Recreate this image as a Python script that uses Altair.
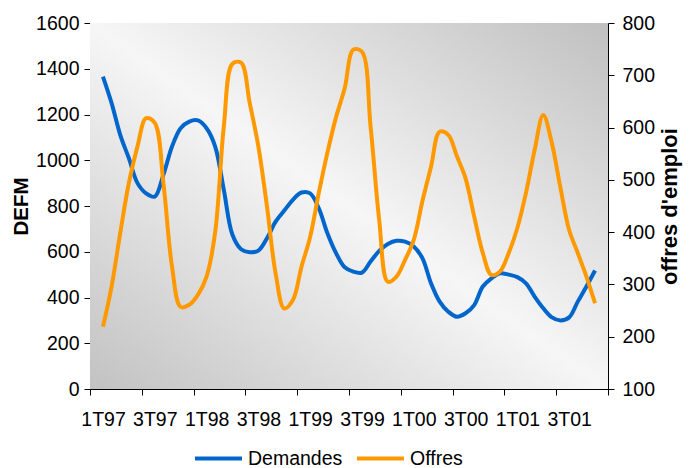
import altair as alt
import pandas as pd

# Quarter labels shown on the x axis (one every 6 months)
quarters = ['1T97', '3T97', '1T98', '3T98', '1T99', '3T99', '1T00', '3T00', '1T01', '3T01']

# Monthly series, Jan 1997 onward
demandes = [1366, 1250, 1111, 1009, 900, 855, 841, 936, 1060, 1140,
            1169, 1174, 1140, 1060, 870, 674, 611, 598, 605, 659,
            732, 780, 827, 859, 855, 790, 681, 594, 532, 513,
            509, 557, 604, 634, 648, 644, 623, 572, 462, 382,
            338, 316, 331, 367, 448, 484, 506, 500, 489, 462,
            404, 353, 313, 300, 313, 382, 448, 518]

offres = [219, 296, 398, 494, 564, 618, 609, 494, 334, 257,
          261, 280, 315, 400, 602, 722, 724, 647, 564, 449,
          321, 254, 270, 334, 391, 475, 552, 620, 675, 749,
          745, 602, 423, 305, 315, 347, 385, 459, 525, 592,
          586, 545, 503, 430, 360, 318, 325, 360, 408, 475,
          557, 624, 570, 484, 404, 360, 315, 264]

series_names = ['Demandes', 'Offres']
series_colors = ['#0066CC', '#FF9900']

months = list(range(len(demandes)))
df_d = pd.DataFrame({'mois': months, 'valeur': demandes, 'serie': series_names[0]})
df_o = pd.DataFrame({'mois': months, 'valeur': offres, 'serie': series_names[1]})

FONT = 'Liberation Sans'
W, H = 518, 366
step = 6
x_min = -1.5
x_max = len(demandes) - 1 + 1.5
tick_vals = [x_min + step * k for k in range(len(quarters) + 1)]
label_arr = "[" + ",".join("'%s'" % q for q in quarters) + ",'']"
label_expr = "%s[round((datum.value + 1.5) / 6)]" % label_arr

color = alt.Color(
    'serie:N',
    scale=alt.Scale(domain=series_names, range=series_colors),
    legend=alt.Legend(
        title=None, orient='none', direction='horizontal',
        legendX=103, legendY=410,
        symbolType='stroke', symbolSize=2209, symbolStrokeWidth=4,
        labelFontSize=19.5, labelFont=FONT, labelColor='black',
        labelOffset=4, columnPadding=6, padding=0,
    ),
)

xenc = alt.X(
    'mois:Q',
    scale=alt.Scale(domain=[x_min, x_max], nice=False, zero=False),
    axis=alt.Axis(
        values=tick_vals, labelExpr=label_expr, labelOffset=13, title=None,
        grid=False, tickSize=6, labelPadding=15, labelFontSize=19.5,
        labelFlush=False, labelOverlap=False,
    ),
)

gradient = alt.LinearGradient(
    gradient='linear', x1=0, y1=1, x2=1, y2=0,
    stops=[
        alt.GradientStop(offset=0, color='#c2c2c2'),
        alt.GradientStop(offset=0.5, color='#f6f6f6'),
        alt.GradientStop(offset=1, color='#c0c0c0'),
    ],
)

background = alt.Chart(pd.DataFrame({'k': [0]})).mark_rect(color=gradient).encode(
    x=alt.value(0), x2=alt.value(W), y=alt.value(0), y2=alt.value(H)
)

left = alt.Chart(df_d).mark_line(strokeWidth=4, interpolate='catmull-rom').encode(
    x=xenc,
    y=alt.Y(
        'valeur:Q',
        scale=alt.Scale(domain=[0, 1600], nice=False),
        axis=alt.Axis(
            orient='left', values=list(range(0, 1601, 200)), title='DEFM', format='d',
            grid=False, tickSize=6, labelPadding=5, labelFontSize=19.5,
            titleFontSize=20.5, titleFontWeight='bold', titlePadding=4,
        ),
    ),
    color=color,
)

right = alt.Chart(df_o).mark_line(strokeWidth=4, interpolate='catmull-rom').encode(
    x=xenc,
    y=alt.Y(
        'valeur:Q',
        scale=alt.Scale(domain=[100, 800], nice=False, zero=False),
        axis=alt.Axis(
            orient='right', values=list(range(100, 801, 100)), title="offres d'emploi",
            format='d',
            grid=False, tickSize=6, labelPadding=8, labelFontSize=19.5,
            titleFontSize=22, titleFontWeight='bold', titlePadding=5,
            titleAngle=270, titleBaseline='top',
        ),
    ),
    color=color,
)

chart = (
    alt.layer(background, left, right)
    .resolve_scale(y='independent')
    .properties(
        width=W, height=H,
        autosize=alt.AutoSizeParams(type='none'),
        padding={'left': 82, 'top': 15, 'right': 75, 'bottom': 79},
        background='white',
    )
    .configure_view(stroke=None)
    .configure_axis(
        labelFont=FONT, titleFont=FONT, labelColor='black', titleColor='black',
        domainColor='black', tickColor='black', domainWidth=1, tickWidth=1,
    )
)

chart.save('out.html', embed_options={'renderer': 'svg', 'actions': False})
